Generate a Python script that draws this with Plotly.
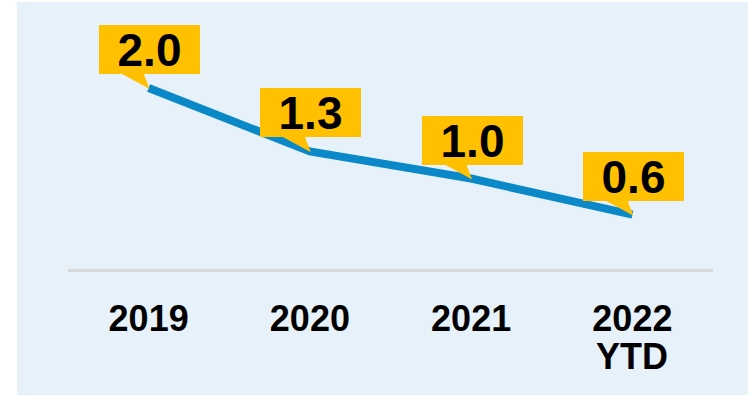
import plotly.graph_objects as go

years = ["2019", "2020", "2021", "2022"]
tick_labels = ["2019", "2020", "2021", "2022"]
tick_sublabels = ["", "", "", "YTD"]
values = [2.0, 1.3, 1.0, 0.6]
value_labels = ["2.0", "1.3", "1.0", "0.6"]

W, H = 748, 396
ML, MR, MT, MB = 68, 35, 10, 127
PW, PH = W - ML - MR, H - MT - MB
PX_PER_UNIT = 90.5

LINE_BLUE = "#0A88C8"
BG_BLUE = "#E6F1F9"
YELLOW = "#FFC000"
TICK_FONT = dict(family="Liberation Sans, Arial", size=36, color="black", weight="bold")

xidx = list(range(len(years)))

fig = go.Figure()
fig.add_trace(go.Scatter(
    x=xidx, y=values, mode="lines",
    line=dict(color=LINE_BLUE, width=8),
    hoverinfo="skip", showlegend=False,
))

shapes = [
    dict(type="rect", xref="paper", yref="paper", layer="below",
         x0=(17 - ML) / PW, x1=(W - ML) / PW,
         y0=(MT + PH - 395) / PH, y1=(MT + PH - 2) / PH,
         fillcolor=BG_BLUE, line=dict(width=0)),
]
annotations = []
for i, (v, lab) in enumerate(zip(values, value_labels)):
    shapes.append(dict(
        type="path", xref="x", yref="y", layer="above",
        xsizemode="pixel", ysizemode="pixel", xanchor=i, yanchor=v,
        path="M -32 17 L -6 17 L 1 -1 Z",
        fillcolor=YELLOW, line=dict(width=0),
    ))
    annotations.append(dict(
        x=i, y=v, xref="x", yref="y", text=lab, showarrow=False,
        xanchor="center", yanchor="middle", yshift=38.5, xshift=1,
        width=101, height=49, bgcolor=YELLOW, borderpad=0, borderwidth=0,
        font=dict(family="Liberation Sans, Arial", size=46, color="black", weight="bold"),
    ))
for i, sub in enumerate(tick_sublabels):
    if sub:
        annotations.append(dict(
            x=i, y=(MT + PH - 356) / PH, xref="x", yref="paper", text=sub,
            showarrow=False, xanchor="center", yanchor="middle", font=TICK_FONT,
        ))

fig.update_layout(
    width=W, height=H,
    margin=dict(l=ML, r=MR, t=MT, b=MB),
    paper_bgcolor="white", plot_bgcolor="rgba(0,0,0,0)",
    shapes=shapes, annotations=annotations,
    xaxis=dict(
        range=[-0.5, len(years) - 0.5], tickvals=xidx, ticktext=tick_labels,
        showgrid=False, zeroline=False, showline=True, linecolor="#D9D9D9", linewidth=3,
        ticks="", ticklabelstandoff=16, tickfont=TICK_FONT,
    ),
    yaxis=dict(range=[0, PH / PX_PER_UNIT], visible=False, showgrid=False, zeroline=False),
)

fig.write_html("out.html")
